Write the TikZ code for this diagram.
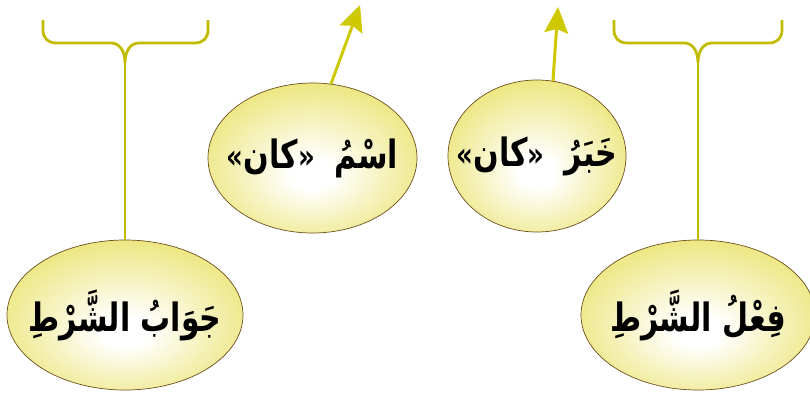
\documentclass[tikz,border=0pt]{standalone}
\usepackage{fontspec}
\usepackage{graphicx}
\usetikzlibrary{shapes.geometric,arrows.meta}
\TeXXeTstate=1
\newfontfamily\arabicfont[Script=Arabic]{DejaVu Sans}
\newfontfamily\dejavu{DejaVu Sans}
\definecolor{yel}{RGB}{232,224,95}
\definecolor{brc}{RGB}{194,188,0}
\definecolor{arr}{RGB}{206,200,0}
\definecolor{edgec}{RGB}{110,80,30}
\pgfdeclareradialshading{ellshade}{\pgfpoint{0bp}{-6bp}}{color(0bp)=(white); color(5bp)=(white); color(34bp)=(yel); color(50bp)=(yel)}
\tikzset{
  ell/.style={ellipse, draw=edgec, line width=0.7pt, shade, shading=ellshade, inner sep=0pt,
    font=\arabicfont\bfseries\fontsize{30}{36}\selectfont},
  brace/.style={draw=brc, line width=2.8pt, line join=round},
  arrline/.style={draw=arr, line width=3pt, -{Stealth[length=26pt,width=24pt,inset=4pt]}}
}
\newcommand{\gq}[1]{{\dejavu\bfseries\fontsize{26}{30}\selectfont #1}}
\newcommand{\tall}[1]{\makebox[0pt]{\scalebox{1}[1.3]{#1}}}
\begin{document}
\begin{tikzpicture}[x=1pt,y=-1pt]
\useasboundingbox (0,0) rectangle (810,394);
% ellipses
\node[ell, minimum width=236pt, minimum height=150pt] (jw) at (125,315) {\tall{\beginR جَوَابُ الشَّرْطِ\endR}};
\node[ell, minimum width=234pt, minimum height=150pt] (fl) at (698,315) {\tall{\beginR فِعْلُ الشَّرْطِ\endR}};
\node[ell, minimum width=209pt, minimum height=150pt] (ik) at (312.5,158) {\tall{\gq{«}\beginR كان\endR\gq{»}\kern20pt\beginR اسْمُ\endR}};
\node[ell, minimum width=178pt, minimum height=152pt] (kk) at (537,156) {\tall{\gq{«}\beginR كان\endR\gq{»}\kern20pt\beginR خَبَرُ\endR}};
% left brace
\coordinate (lc) at (125,63);
\draw[brace] (43,20) -- (43,30) .. controls (43,38) and (48,43) .. (56,43) -- (111,43)
  .. controls (119,43) and (125,50) .. (lc)
  .. controls (125,50) and (131,43) .. (139,43) -- (195,43)
  .. controls (203,43) and (208,38) .. (208,30) -- (208,20);
\draw[brace] (lc) -- (jw.north);
% right brace
\coordinate (rc) at (698,63);
\draw[brace] (614,20) -- (614,30) .. controls (614,38) and (619,43) .. (627,43) -- (684,43)
  .. controls (692,43) and (698,50) .. (rc)
  .. controls (698,50) and (704,43) .. (712,43) -- (769,43)
  .. controls (777,43) and (782,38) .. (782,30) -- (782,20);
\draw[brace] (rc) -- (fl.north);
% arrows
\coordinate (a1) at (360,5);
\coordinate (a2) at (558,7);
\draw[arrline] (ik.76) -- (a1);
\draw[arrline] (kk.78) -- (a2);
\end{tikzpicture}
\end{document}
